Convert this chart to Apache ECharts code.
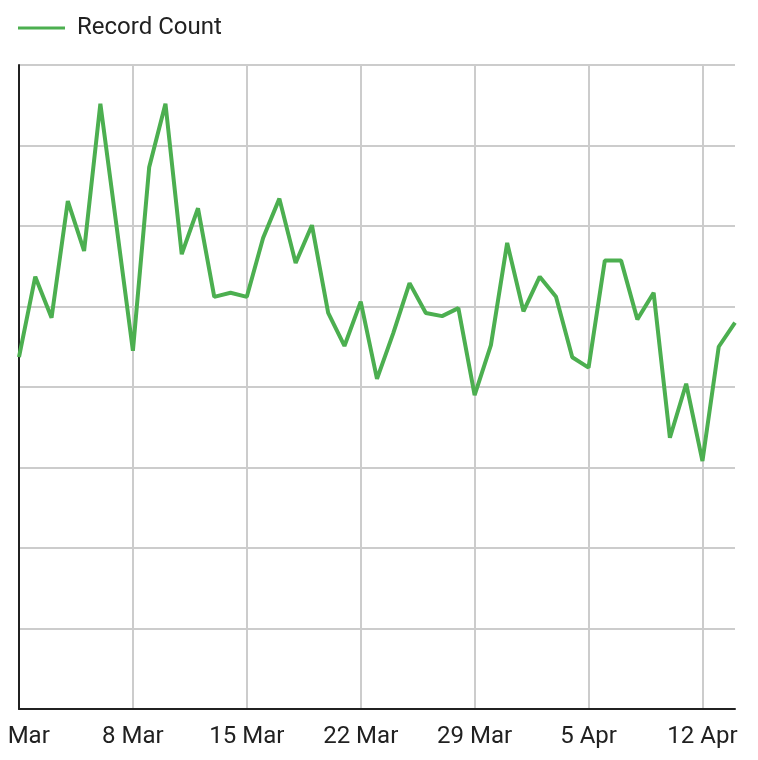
<!DOCTYPE html>
<html>
<head>
<meta charset="utf-8">
<script src="https://cdn.jsdelivr.net/npm/echarts@6/dist/echarts.min.js"></script>
<style>
html,body{margin:0;padding:0;background:#fff;}
#chart{width:758px;height:760px;}
</style>
</head>
<body>
<div id="chart"></div>
<script>
const categories = ["1 Mar","2 Mar","3 Mar","4 Mar","5 Mar","6 Mar","7 Mar","8 Mar","9 Mar","10 Mar","11 Mar","12 Mar","13 Mar","14 Mar","15 Mar","16 Mar","17 Mar","18 Mar","19 Mar","20 Mar","21 Mar","22 Mar","23 Mar","24 Mar","25 Mar","26 Mar","27 Mar","28 Mar","29 Mar","30 Mar","31 Mar","1 Apr","2 Apr","3 Apr","4 Apr","5 Apr","6 Apr","7 Apr","8 Apr","9 Apr","10 Apr","11 Apr","12 Apr","13 Apr","14 Apr"];
const recordCount = [43.7,53.7,48.6,63.1,56.9,75.2,59.9,44.5,67.3,75.2,56.5,62.2,51.2,51.7,51.2,58.5,63.4,55.4,60.1,49.2,45.1,50.6,41.0,46.7,52.9,49.2,48.8,49.8,39.0,45.2,57.9,49.4,53.7,51.2,43.7,42.4,55.7,55.7,48.4,51.7,33.7,40.4,30.8,45.0,48.0];
const seriesName = "Record Count";

const chart = echarts.init(document.getElementById('chart'), null, {renderer:'canvas'});
chart.setOption({
  animation:false,
  textStyle:{fontFamily:'Roboto'},
  legend:{
    left:13, top:11,
    icon:'rect', itemWidth:47, itemHeight:3,
    textStyle:{fontSize:24, color:'#212121', fontFamily:'Roboto', padding:[0,0,0,7]},
    data:[seriesName]
  },
  grid:{left:19, right:23, top:65, bottom:51, containLabel:false, outerBoundsMode:'none'},
  xAxis:{
    type:'category', data:categories, boundaryGap:false,
    axisLine:{lineStyle:{color:'#212121', width:2}},
    axisTick:{show:false},
    axisLabel:{interval:6, fontSize:24, color:'#212121', fontFamily:'Roboto', margin:16},
    splitLine:{show:true, interval:6, lineStyle:{color:'#cccccc', width:2}}
  },
  yAxis:{
    type:'value', min:0, max:80, interval:10,
    axisLine:{show:true, lineStyle:{color:'#212121', width:2}},
    axisTick:{show:false},
    axisLabel:{show:false},
    splitLine:{show:true, lineStyle:{color:'#cccccc', width:2}}
  },
  series:[{
    name:seriesName, type:'line', data:recordCount,
    symbol:'none', lineStyle:{color:'#4caf50', width:4}, itemStyle:{color:'#4caf50'}
  }]
});
</script>
</body>
</html>
